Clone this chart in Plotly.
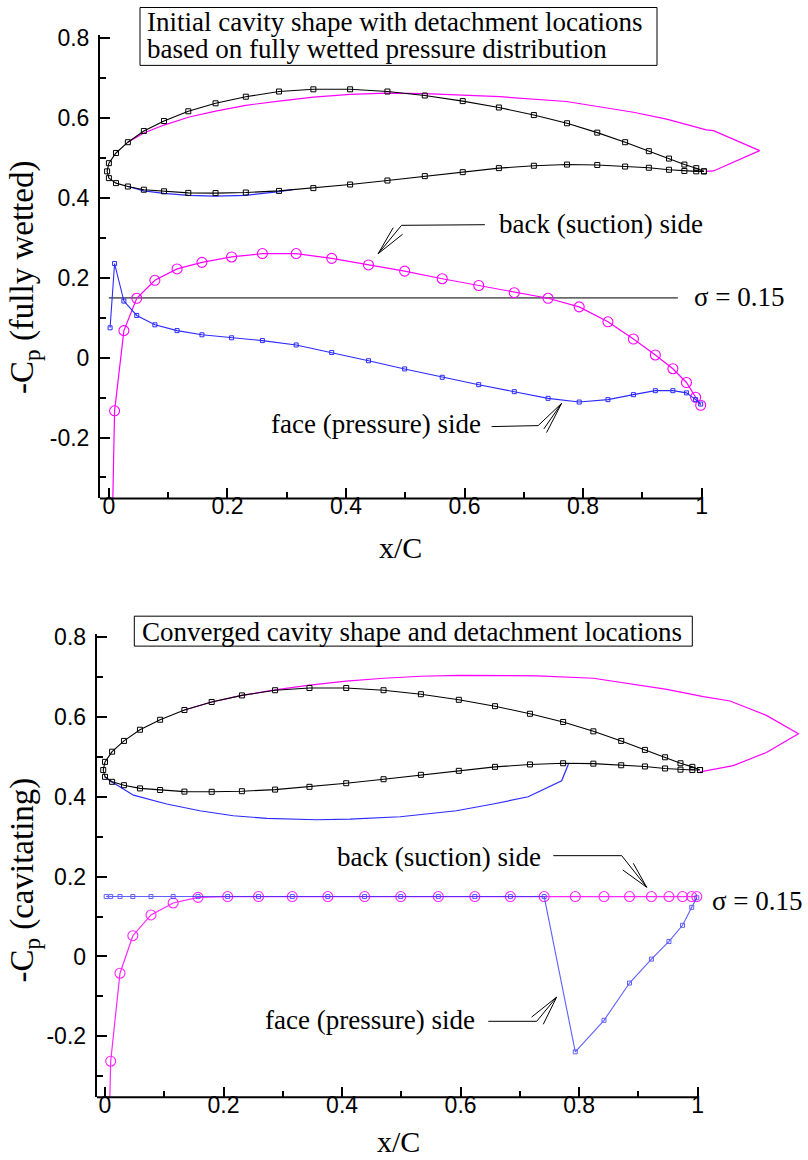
import plotly.graph_objects as go

# ---------------- data ----------------
# hydrofoil section (same in both panels)
foil_x = [-0.003, 0.0, 0.012, 0.032, 0.059, 0.093, 0.134, 0.18, 0.231, 0.287, 0.345, 0.407, 0.47,
          0.533, 0.597, 0.658, 0.717, 0.773, 0.824, 0.871, 0.911, 0.945, 0.971, 0.991, 1.004]
foil_upper = [0.467, 0.4875, 0.513, 0.54, 0.568, 0.593, 0.6175, 0.6375, 0.654, 0.667, 0.6725, 0.6725, 0.667,
              0.657, 0.643, 0.627, 0.608, 0.5875, 0.564, 0.54, 0.5175, 0.499, 0.484, 0.475, 0.467]
foil_lower = [0.467, 0.45, 0.4375, 0.429, 0.421, 0.417, 0.413, 0.4125, 0.414, 0.418, 0.425, 0.434, 0.444,
              0.455, 0.465, 0.475, 0.481, 0.484, 0.483, 0.479, 0.476, 0.471, 0.468, 0.467, 0.467]

# initial cavity (fully wetted detachment)
cav1_back_x = [0.032, 0.059, 0.093, 0.134, 0.18, 0.231, 0.287, 0.345, 0.407, 0.47, 0.533, 0.66, 0.772,
               0.885, 0.941, 1.008, 1.02, 1.098, 1.02, 1.007]
cav1_back_y = [0.54, 0.563, 0.583, 0.6025, 0.618, 0.6325, 0.643, 0.653, 0.66, 0.663, 0.6617, 0.654, 0.642,
               0.615, 0.598, 0.571, 0.569, 0.519, 0.468, 0.467]
cav1_face_x = [0.032, 0.059, 0.093, 0.134, 0.18, 0.231, 0.287, 0.31]
cav1_face_y = [0.429, 0.418, 0.412, 0.407, 0.405, 0.407, 0.416, 0.421]

# converged cavity
cav2_back_x = [0.134, 0.18, 0.231, 0.287, 0.345, 0.407, 0.47, 0.533, 0.597, 0.666, 0.73, 0.824, 0.891,
               0.948, 1.0095, 1.0545, 1.116, 1.17, 1.116, 1.06, 1.004]
cav2_back_y = [0.6175, 0.6375, 0.654, 0.668, 0.680, 0.690, 0.697, 0.702, 0.704, 0.704, 0.703, 0.697, 0.682,
               0.669, 0.651, 0.64, 0.604, 0.558, 0.511, 0.478, 0.4625]
cav2_face_x = [0.0, 0.01, 0.025, 0.048, 0.104, 0.16, 0.2165, 0.273, 0.357, 0.413, 0.498, 0.593, 0.655,
               0.714, 0.7705, 0.782]
cav2_face_y = [0.45, 0.438, 0.425, 0.404, 0.382, 0.365, 0.3525, 0.346, 0.3425, 0.344, 0.35, 0.365, 0.382,
               0.40, 0.44, 0.482]

# pressure distributions (-Cp) at panel midpoints
cp_x = [0.002, 0.0096, 0.0253, 0.047, 0.0776, 0.115, 0.157, 0.207, 0.259, 0.316, 0.376, 0.438, 0.499,
        0.5624, 0.624, 0.684, 0.741, 0.7935, 0.842, 0.885, 0.922, 0.9516, 0.9745, 0.990, 0.9985]
cp_wet_back = [-0.7, -0.133, 0.068, 0.149, 0.194, 0.2225, 0.239, 0.2525, 0.261, 0.261, 0.249, 0.2325, 0.217,
               0.198, 0.181, 0.163, 0.149, 0.1275, 0.09, 0.047, 0.007, -0.0275, -0.062, -0.099, -0.119]
cp_wet_face = [0.075, 0.236, 0.142, 0.106, 0.0825, 0.068, 0.0575, 0.05, 0.043, 0.032, 0.013, -0.0075, -0.028,
               -0.049, -0.0675, -0.085, -0.1017, -0.111, -0.105, -0.0925, -0.0825, -0.0825, -0.088, -0.105, -0.116]
cp_cav_back = [-0.75, -0.2625, -0.042, 0.052, 0.104, 0.134, 0.148, 0.15, 0.15, 0.15, 0.15, 0.15, 0.15,
               0.15, 0.15, 0.15, 0.15, 0.15, 0.15, 0.15, 0.15, 0.15, 0.15, 0.15, 0.15]
cp_cav_face = [0.15, 0.15, 0.15, 0.15, 0.15, 0.15, 0.15, 0.15, 0.15, 0.15, 0.15, 0.15, 0.15,
               0.15, 0.15, 0.15, 0.15, -0.239, -0.16, -0.0667, -0.0067, 0.0375, 0.078, 0.123, 0.147]

sigma = 0.15
sigma_x = [0.0, 0.96]

xtick_vals = [0, 0.2, 0.4, 0.6, 0.8, 1.0]
xtick_text = ["0", "0.2", "0.4", "0.6", "0.8", "1"]
xminor_vals = [0.1, 0.3, 0.5, 0.7, 0.9]
ytick_vals = [-0.2, 0, 0.2, 0.4, 0.6, 0.8]
ytick_text = ["-0.2", "0", "0.2", "0.4", "0.6", "0.8"]
yminor_vals = [-0.3, -0.1, 0.1, 0.3, 0.5, 0.7]

# leader-line anchor points (data units of each panel)
lead_top_back = dict(line=[(0.6344, 0.3333), (0.4938, 0.3318), (0.4544, 0.2608)],
                     fan=[(0.4797, 0.3258), (0.4955, 0.3093)])
lead_top_face = dict(line=[(0.6457, -0.1725), (0.7243, -0.170), (0.7638, -0.1143)],
                     fan=[(0.7339, -0.1783), (0.7385, -0.1875)])
lead_bot_back = dict(line=[(0.7564, 0.2525), (0.8718, 0.2525), (0.914, 0.1733)],
                     fan=[(0.8735, 0.2168), (0.8914, 0.2333)])
lead_bot_face = dict(line=[(0.6467, -0.1625), (0.7284, -0.1625), (0.7621, -0.1018)],
                     fan=[(0.7199, -0.1518), (0.7395, -0.170)])

MAG = "#ff00ff"
BLU = "#2b2bff"
SERIF = "Liberation Serif, Times New Roman, serif"
SANS = "Liberation Sans, Arial, sans-serif"

W, H = 808, 1160

fig = go.Figure()


def add_panel(xa, ya, back_cav, face_cav, cp_back, cp_face, show_sigma, cav_op):
    bx, by = back_cav
    fx, fy = face_cav
    fig.add_trace(go.Scatter(x=bx, y=by, mode="lines", line=dict(color=MAG, width=1.2),
                             xaxis=xa, yaxis=ya, showlegend=False))
    fig.add_trace(go.Scatter(x=fx, y=fy, mode="lines", line=dict(color=BLU, width=1.2),
                             xaxis=xa, yaxis=ya, showlegend=False))
    fig.add_trace(go.Scatter(x=foil_x[::-1] + foil_x[1:], y=foil_upper[::-1] + foil_lower[1:],
                             mode="lines+markers", line=dict(color="black", width=1.1),
                             marker=dict(symbol="square-open", size=5, color="black", line=dict(width=1)),
                             xaxis=xa, yaxis=ya, showlegend=False))
    if show_sigma:
        fig.add_trace(go.Scatter(x=sigma_x, y=[sigma, sigma], mode="lines",
                                 line=dict(color="#6a6a6a", width=1.6),
                                 xaxis=xa, yaxis=ya, showlegend=False))
    fig.add_trace(go.Scatter(x=cp_x, y=cp_back, mode="lines+markers", opacity=cav_op[0],
                             line=dict(color=MAG, width=1.2),
                             marker=dict(symbol="circle-open", size=10, color=MAG, line=dict(width=1.1)),
                             xaxis=xa, yaxis=ya, showlegend=False))
    fig.add_trace(go.Scatter(x=cp_x, y=cp_face, mode="lines+markers", opacity=cav_op[1],
                             line=dict(color=BLU, width=1.1),
                             marker=dict(symbol="square-open", size=4, color=BLU, line=dict(width=1)),
                             xaxis=xa, yaxis=ya, showlegend=False))


add_panel("x", "y", (cav1_back_x, cav1_back_y), (cav1_face_x, cav1_face_y),
          cp_wet_back, cp_wet_face, True, (1.0, 1.0))
add_panel("x2", "y2", (cav2_back_x, cav2_back_y), (cav2_face_x, cav2_face_y),
          cp_cav_back, cp_cav_face, False, (0.85, 0.75))


def px(X):
    return X / W


# vertical paper position for a target pixel row (small correction for the capture offset)
def py(Y):
    return 1 - (Y - 7.5) / 1152.5


xr_top = [-0.015, 1.1745]
xr_bot = [-0.014, 1.1811]
yr = [-0.3525, 0.8075]

common_x = dict(tickmode="array", tickvals=xtick_vals, ticktext=xtick_text, ticks="inside",
                ticklen=10, tickwidth=2, tickcolor="black", showline=False, showgrid=False,
                zeroline=False, tickfont=dict(family=SANS, size=23, color="black"),
                ticklabelstandoff=-8,
                minor=dict(tickmode="array", tickvals=xminor_vals, ticks="inside", ticklen=6,
                           tickwidth=1.5, tickcolor="black", showgrid=False))
common_y = dict(tickmode="array", tickvals=ytick_vals, ticktext=ytick_text, ticks="inside",
                ticklen=10, tickwidth=2, tickcolor="black", showline=True, linewidth=2,
                linecolor="black", showgrid=False, zeroline=False, range=yr,
                tickfont=dict(family=SANS, size=23, color="black"),
                ticklabelstandoff=4,
                minor=dict(tickmode="array", tickvals=yminor_vals, ticks="inside", ticklen=6,
                           tickwidth=1.5, tickcolor="black", showgrid=False))

fig.update_layout(
    width=W, height=H, autosize=False,
    margin=dict(l=0, r=0, t=0, b=0),
    paper_bgcolor="white", plot_bgcolor="white",
    xaxis=dict(domain=[px(100), px(805)], range=xr_top, anchor="y", **common_x),
    yaxis=dict(domain=[py(497), py(33)], anchor="x", **common_y),
    xaxis2=dict(domain=[px(96.7), px(805)], range=xr_bot, anchor="y2", **common_x),
    yaxis2=dict(domain=[py(1097), py(633)], anchor="x2", **common_y),
)

shapes = []
# bottom axis lines (only up to x/C = 1)
for xa, ya, x0 in (("x", "y", xr_top[0]), ("x2", "y2", xr_bot[0])):
    shapes.append(dict(type="line", xref=xa, yref=ya + " domain", x0=x0, x1=1.0, y0=0, y1=0,
                       line=dict(color="black", width=2)))


def path_of(pts):
    return "M " + " L ".join(f"{x},{y}" for x, y in pts)


for lead, xa, ya in ((lead_top_back, "x", "y"), (lead_top_face, "x", "y"),
                     (lead_bot_back, "x2", "y2"), (lead_bot_face, "x2", "y2")):
    shapes.append(dict(type="path", xref=xa, yref=ya, path=path_of(lead["line"]),
                       line=dict(color="black", width=1)))
    tip = lead["line"][-1]
    for p in lead["fan"]:
        shapes.append(dict(type="path", xref=xa, yref=ya, path=path_of([tip, p]),
                           line=dict(color="black", width=1)))

# title boxes
shapes.append(dict(type="rect", xref="paper", yref="paper", x0=px(140), x1=px(657), y0=py(63), y1=py(5),
                   line=dict(color="black", width=1), fillcolor="white"))
shapes.append(dict(type="rect", xref="paper", yref="paper", x0=px(134.3), x1=px(692.3), y0=py(645), y1=py(615),
                   line=dict(color="black", width=1), fillcolor="white"))
fig.update_layout(shapes=shapes)

ann = []


def text(x, y, s, xref, yref, xanchor="left", size=27, **kw):
    ann.append(dict(x=x, y=y, xref=xref, yref=yref, text=s, showarrow=False, xanchor=xanchor,
                    yanchor="middle", font=dict(family=SERIF, size=size, color="black"), **kw))


# boxed captions
text(px(145), py(20), "Initial cavity shape with detachment locations", "paper", "paper")
text(px(145), py(47), "based on fully wetted pressure distribution", "paper", "paper")
text(px(140), py(631), "Converged cavity shape and detachment locations", "paper", "paper")

# curve labels
text(0.6546, 0.335, "back (suction) side", "x", "y")
text(0.631, -0.165, "face (pressure) side", "x", "y", xanchor="right")
text(0.983, 0.1525, "σ = 0.15", "x", "y")
text(0.7395, 0.25, "back (suction) side", "x2", "y2", xanchor="right")
text(0.6271, -0.16, "face (pressure) side", "x2", "y2", xanchor="right")
text(1.0207, 0.14, "σ = 0.15", "x2", "y2")

# axis titles
text(px(400.5), py(546), "x/C", "paper", "paper", xanchor="center", size=30)
text(px(398.5), py(1141), "x/C", "paper", "paper", xanchor="center", size=30)
text(px(25), py(276), "-C<sub>p</sub> (fully wetted)", "paper", "paper", xanchor="center", size=33,
     textangle=-90)
text(px(25), py(880), "-C<sub>p</sub> (cavitating)", "paper", "paper", xanchor="center", size=33,
     textangle=-90)

fig.update_layout(annotations=ann)

post = ("document.documentElement.style.margin='0px';document.body.style.margin='0px';"
        "document.body.style.padding='0px';document.body.style.overflow='hidden';"
        "var d=document.getElementById('{plot_id}');d.style.position='absolute';"
        "d.style.left='0px';d.style.top='0px';")
fig.write_html("out.html", config={"displayModeBar": False}, post_script=post)
